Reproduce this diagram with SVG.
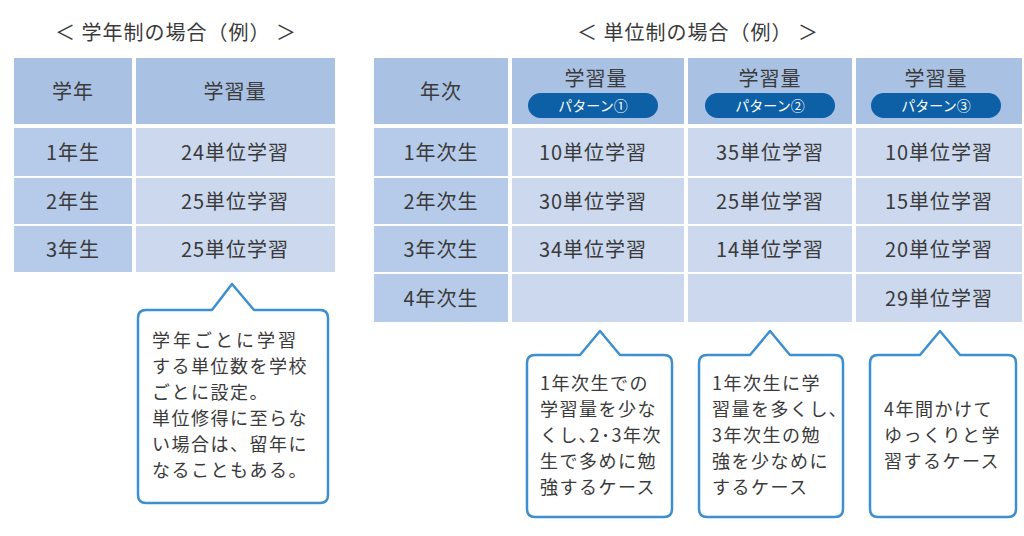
<svg xmlns="http://www.w3.org/2000/svg" width="1024" height="536" viewBox="0 0 1024 536">
<style>
text{font-family:"Noto Sans CJK JP","Noto Sans",sans-serif;fill:#3a3a3a}
.t{font-size:20px;text-anchor:middle;letter-spacing:1px}
.c{font-size:18px;letter-spacing:1.5px}
.h{fill:#a9c1e3}.k{fill:#b6cbe9}.d{fill:#cbd8ee}
.pill{fill:#0d5fa6}
.pt{font-size:14px;fill:#fff;text-anchor:middle}
.co{fill:#fff;stroke:#3d8fd0;stroke-width:2.5;stroke-linejoin:round}
</style>
<rect width="1024" height="536" fill="#fff"/>
<text class="t" x="176" y="40">＜ 学年制の場合（例） ＞</text>
<text class="t" x="698" y="40">＜ 単位制の場合（例） ＞</text>
<g id="left-table">
<rect class="h" x="14" y="58" width="118" height="66"/><rect class="h" x="136" y="58" width="199" height="66"/>
<rect class="k" x="14" y="128" width="118" height="48"/><rect class="d" x="136" y="128" width="199" height="48"/>
<rect class="k" x="14" y="178" width="118" height="46"/><rect class="d" x="136" y="178" width="199" height="46"/>
<rect class="k" x="14" y="226" width="118" height="46"/><rect class="d" x="136" y="226" width="199" height="46"/>
<text class="t" x="73" y="99">学年</text><text class="t" x="235" y="99">学習量</text>
<text class="t" x="73" y="160">1年生</text><text class="t" x="235" y="160">24単位学習</text>
<text class="t" x="73" y="209">2年生</text><text class="t" x="235" y="209">25単位学習</text>
<text class="t" x="73" y="257">3年生</text><text class="t" x="235" y="257">25単位学習</text>
</g>
<g id="right-table">
<rect class="h" x="374" y="58" width="134" height="66"/><rect class="h" x="512" y="58" width="172" height="66"/><rect class="h" x="688" y="58" width="164" height="66"/><rect class="h" x="856" y="58" width="166" height="66"/>
<rect class="k" x="374" y="128" width="134" height="48"/><rect class="d" x="512" y="128" width="172" height="48"/><rect class="d" x="688" y="128" width="164" height="48"/><rect class="d" x="856" y="128" width="166" height="48"/>
<rect class="k" x="374" y="178" width="134" height="46"/><rect class="d" x="512" y="178" width="172" height="46"/><rect class="d" x="688" y="178" width="164" height="46"/><rect class="d" x="856" y="178" width="166" height="46"/>
<rect class="k" x="374" y="226" width="134" height="46"/><rect class="d" x="512" y="226" width="172" height="46"/><rect class="d" x="688" y="226" width="164" height="46"/><rect class="d" x="856" y="226" width="166" height="46"/>
<rect class="k" x="374" y="274" width="134" height="48"/><rect class="d" x="512" y="274" width="172" height="48"/><rect class="d" x="688" y="274" width="164" height="48"/><rect class="d" x="856" y="274" width="166" height="48"/>
<text class="t" x="441" y="99">年次</text>
<text class="t" x="596" y="86">学習量</text><rect class="pill" x="528" y="93" width="130" height="25" rx="12.5"/><text class="pt" x="593" y="111">パターン①</text>
<text class="t" x="770" y="86">学習量</text><rect class="pill" x="705" y="93" width="130" height="25" rx="12.5"/><text class="pt" x="770" y="111">パターン②</text>
<text class="t" x="936" y="86">学習量</text><rect class="pill" x="871" y="93" width="130" height="25" rx="12.5"/><text class="pt" x="936" y="111">パターン③</text>
<text class="t" x="441" y="160">1年次生</text><text class="t" x="593" y="160">10単位学習</text><text class="t" x="770" y="160">35単位学習</text><text class="t" x="939" y="160">10単位学習</text>
<text class="t" x="441" y="209">2年次生</text><text class="t" x="593" y="209">30単位学習</text><text class="t" x="770" y="209">25単位学習</text><text class="t" x="939" y="209">15単位学習</text>
<text class="t" x="441" y="257">3年次生</text><text class="t" x="593" y="257">34単位学習</text><text class="t" x="770" y="257">14単位学習</text><text class="t" x="939" y="257">20単位学習</text>
<text class="t" x="441" y="306">4年次生</text><text class="t" x="939" y="306">29単位学習</text>
</g>
<g id="callout-1">
<path class="co" d="M146 310 H212 L232 284 L254 310 H320 Q328 310 328 318 V495 Q328 503 320 503 H146 Q138 503 138 495 V318 Q138 310 146 310 Z"/>
<text class="c" x="152" y="347" style="letter-spacing:3px">学年ごとに学習</text>
<text class="c" x="152" y="373">する単位数を学校</text>
<text class="c" x="152" y="399">ごとに設定。</text>
<text class="c" x="152" y="425">単位修得に至らな</text>
<text class="c" x="152" y="451">い場合は、留年に</text>
<text class="c" x="152" y="477">なることもある。</text>
</g>
<g id="callout-2">
<path class="co" d="M535 355 H580 L600 331 L620 355 H664 Q672 355 672 363 V509 Q672 517 664 517 H535 Q527 517 527 509 V363 Q527 355 535 355 Z"/>
<text class="c" x="540" y="390">1年次生での</text>
<text class="c" x="540" y="416">学習量を少な</text>
<text class="c" x="540" y="442">くし､2･3年次</text>
<text class="c" x="540" y="468">生で多めに勉</text>
<text class="c" x="540" y="494">強するケース</text>
</g>
<g id="callout-3">
<path class="co" d="M707 355 H750 L770 331 L790 355 H835 Q843 355 843 363 V509 Q843 517 835 517 H707 Q699 517 699 509 V363 Q699 355 707 355 Z"/>
<text class="c" x="712" y="390">1年次生に学</text>
<text class="c" x="712" y="416">習量を多くし､</text>
<text class="c" x="712" y="442">3年次生の勉</text>
<text class="c" x="712" y="468">強を少なめに</text>
<text class="c" x="712" y="494">するケース</text>
</g>
<g id="callout-4">
<path class="co" d="M878 355 H920 L940 331 L960 355 H1008 Q1016 355 1016 363 V509 Q1016 517 1008 517 H878 Q870 517 870 509 V363 Q870 355 878 355 Z"/>
<text class="c" x="884" y="416">4年間かけて</text>
<text class="c" x="884" y="442">ゆっくりと学</text>
<text class="c" x="884" y="468">習するケース</text>
</g>
</svg>
